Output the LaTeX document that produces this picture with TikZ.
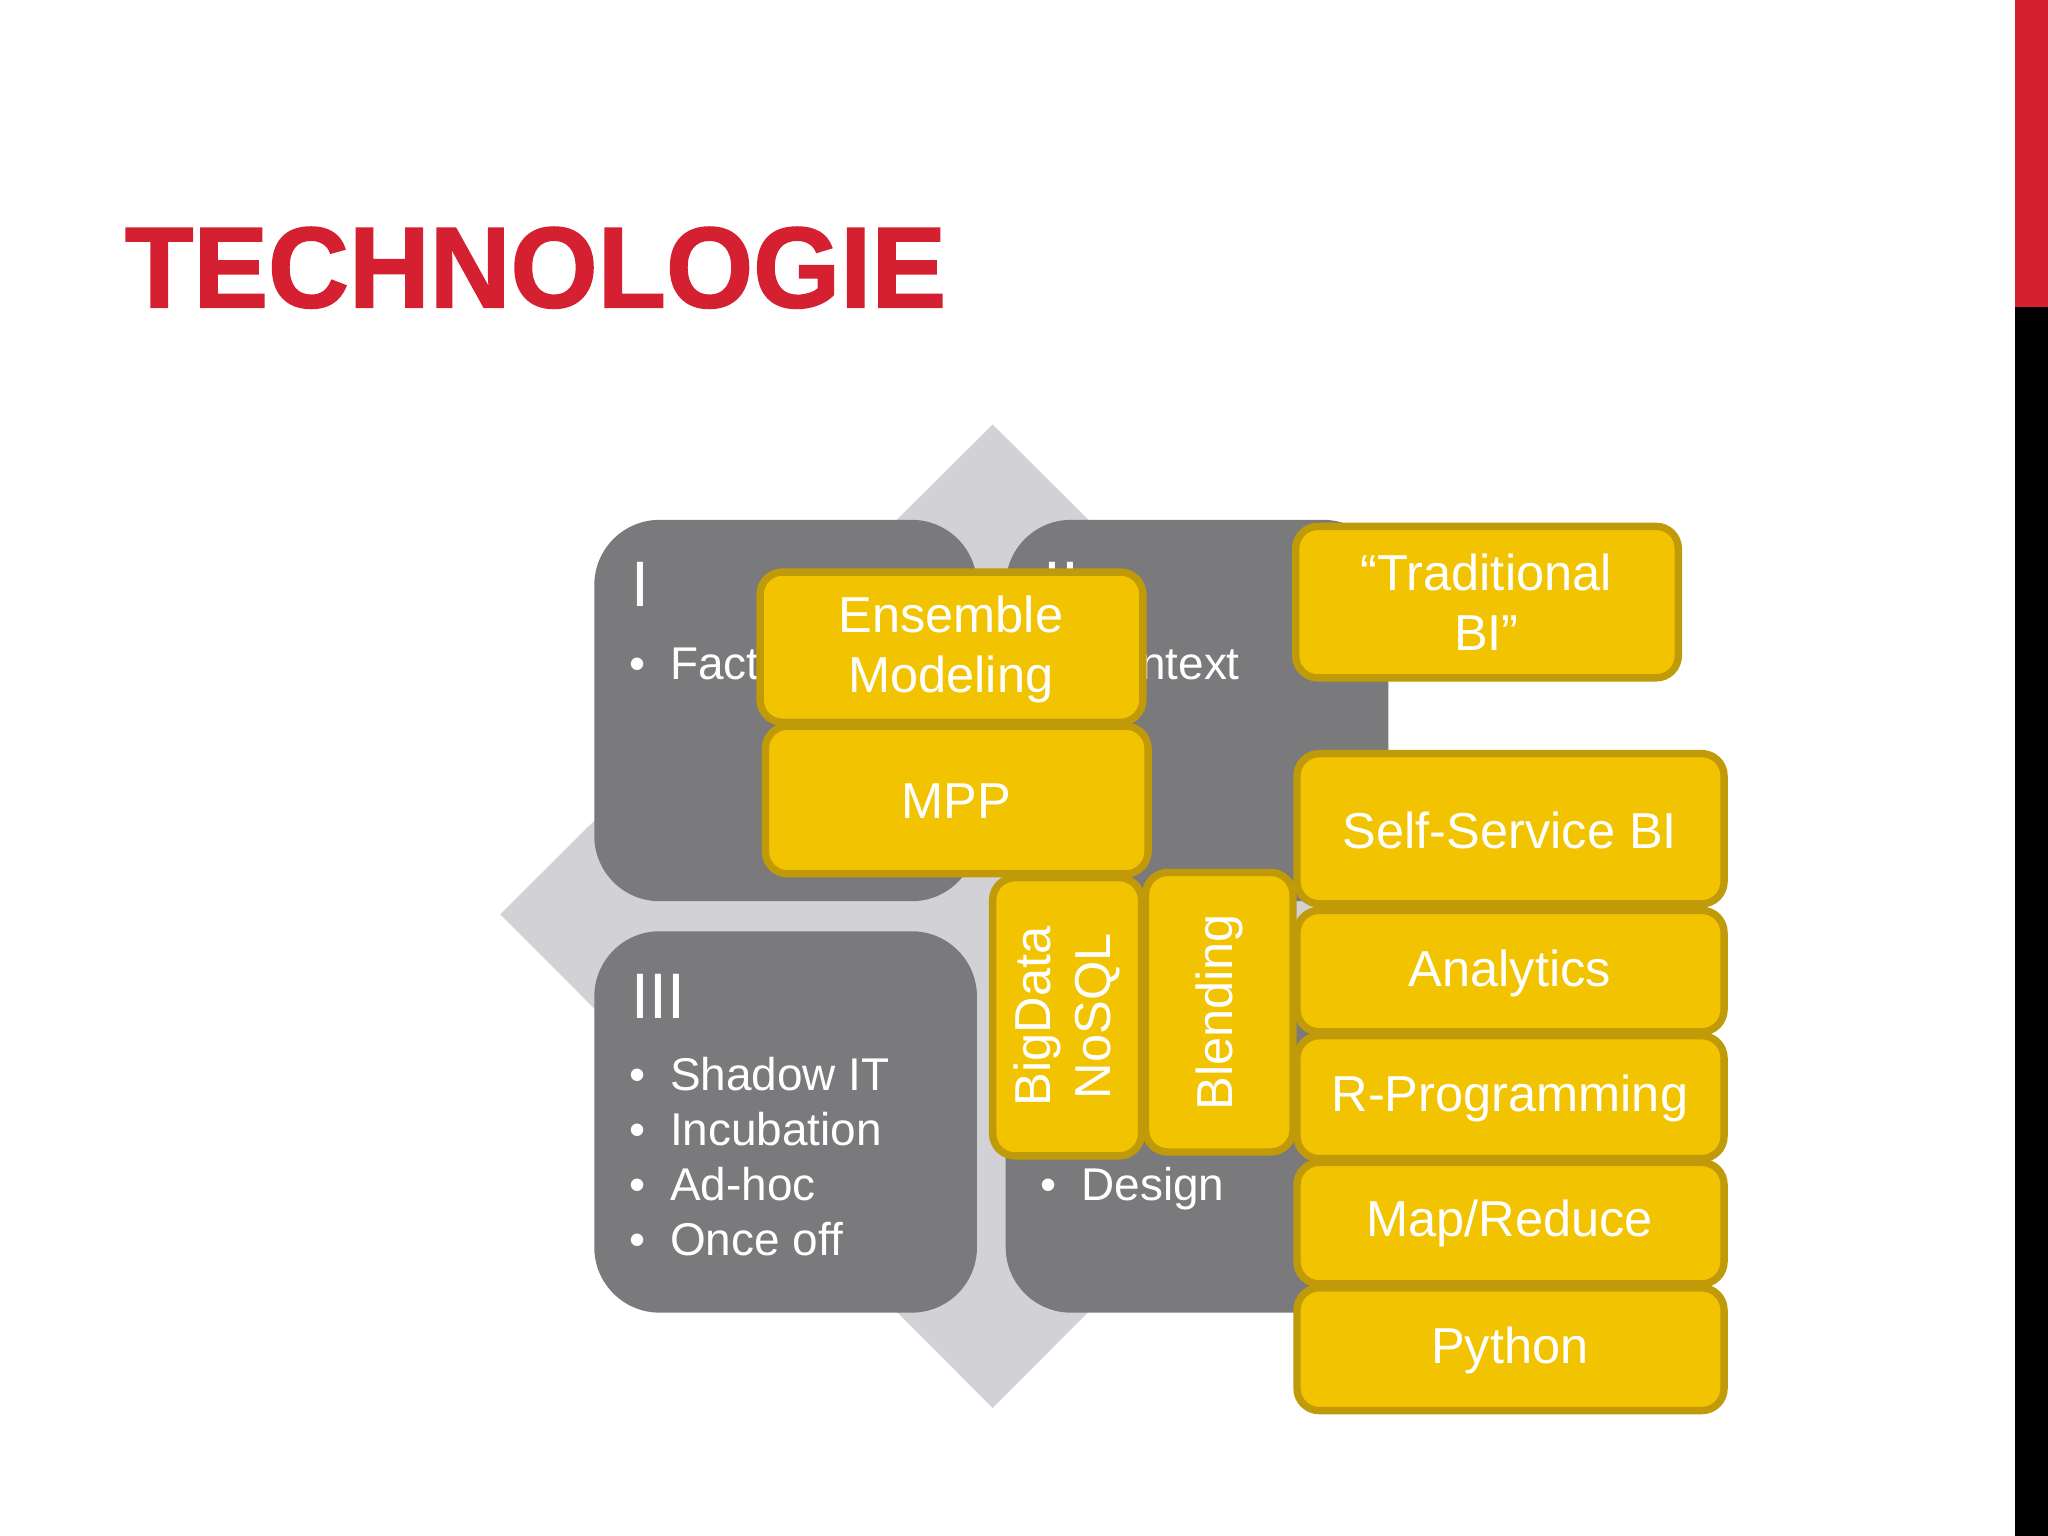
\documentclass[tikz,border=0pt]{standalone}
\usepackage{fontspec}
\setmainfont{Liberation Sans}
\definecolor{qgray}{HTML}{7A797B}
\definecolor{dgray}{HTML}{D2D1D5}
\definecolor{ygold}{HTML}{F2C300}
\definecolor{yedge}{HTML}{C09A08}
\definecolor{tred}{HTML}{D42030}
\newcommand{\bul}{\textbullet\hspace{0.19cm}}
\begin{document}
\begin{tikzpicture}[x=0.01cm,y=-0.01cm,
  quad/.style={fill=qgray,rounded corners=0.5cm},
  ybox/.style={fill=ygold,draw=yedge,line width=1.6pt,rounded corners=0.17cm},
  ytxt/.style={text=white,font=\fontsize{11pt}{13pt}\selectfont,align=center},
  qtxt/.style={text=white,font=\fontsize{10pt}{12pt}\selectfont,anchor=base west,inner sep=0pt},
  qnum/.style={text=white,font=\fontsize{14pt}{14pt}\selectfont,anchor=base west,inner sep=0pt}]
\useasboundingbox (0,0) rectangle (1568,1176);
\fill[white] (0,0) rectangle (1568,1176);
\fill[tred] (1543,0) rectangle (1568,235);
\fill[black] (1543,235) rectangle (1568,1176);
\node[anchor=west,inner sep=0pt,text=tred,font=\bfseries\fontsize{25pt}{25pt}\selectfont,xscale=0.975] (title) at (95,205) {\addfontfeature{FakeBold=1.5}TECHNOLOGIE};
% diamond
\fill[dgray] (760,325) -- (1137,700) -- (760,1078) -- (383,700) -- cycle;
% quadrants
\fill[quad] (455,398) rectangle (748,690);
\fill[quad] (770,398) rectangle (1063,690);
\fill[quad] (455,713) rectangle (748,1005);
\fill[quad] (770,713) rectangle (1063,1005);
\node[qnum] (q1) at (483,464) {I};
\node[qtxt] (q1b) at (481,520) {\bul Fact};
\node[qnum] (q2) at (798,464) {II};
\node[qtxt] (q2b) at (796,520) {\bul Context};
\node[qnum] (q3) at (483,780) {III};
\node[qtxt] (q3a) at (481,835) {\bul Shadow IT};
\node[qtxt] (q3b) at (481,877) {\bul Incubation};
\node[qtxt] (q3c) at (481,919) {\bul Ad-hoc};
\node[qtxt] (q3d) at (481,961) {\bul Once off};
\node[qnum] (q4) at (798,780) {IV};
\node[qtxt] (q4b) at (796,919) {\bul Design};
% yellow boxes
\draw[ybox] (582,438) rectangle (875,553);
\node[ytxt] (ens) at (728,497) {Ensemble\\Modeling};
\draw[ybox] (586,556) rectangle (879,669);
\node[ytxt] (mpp) at (732,613) {MPP};
\draw[ybox] (760,672) rectangle (874,885);
\node[ytxt,rotate=90] (big) at (817,778) {BigData\\NoSQL};
\draw[ybox] (877,668) rectangle (990,882);
\node[ytxt,rotate=90] (blend) at (934,775) {Blending};
\draw[ybox] (992,403) rectangle (1285,519);
\node[ytxt] (trad) at (1138,461) {“Traditional\\BI”};
\draw[ybox] (993,577) rectangle (1320,692);
\node[ytxt] (ssbi) at (1156,636) {Self-Service BI};
\draw[ybox] (993,697) rectangle (1320,790);
\node[ytxt] (ana) at (1156,745) {Analytics};
\draw[ybox] (993,793) rectangle (1320,887);
\node[ytxt] (rp) at (1156,841) {R-Programming};
\draw[ybox] (993,890) rectangle (1320,983);
\node[ytxt] (mr) at (1156,937) {Map/Reduce};
\draw[ybox] (993,986) rectangle (1320,1080);
\node[ytxt] (py) at (1156,1034) {Python};
\end{tikzpicture}
\end{document}
